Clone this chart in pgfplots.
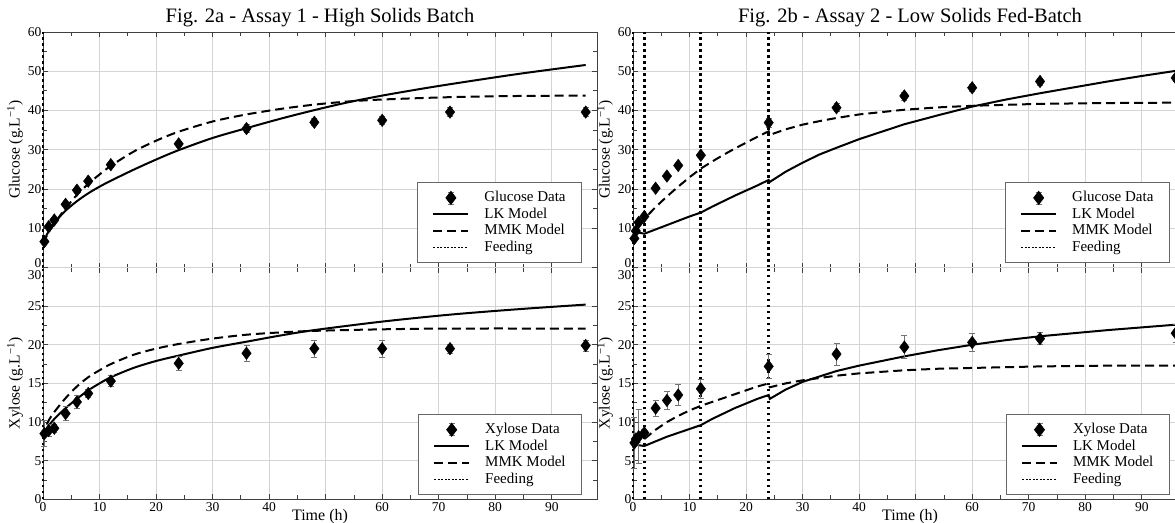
\documentclass[border=0pt]{standalone}
\usepackage{fontspec}
\setmainfont{Liberation Serif}
\usepackage{pgfplots}
\usepackage{pgfplotstable}
\pgfplotsset{compat=1.18}

% measured data: t (h), value (g/L), error
\pgfplotstableread{
t v e
0.25 6.6 0.5
1 10.4 0.5
2 12.1 0.6
4 16.1 0.5
6 19.7 0.5
8 22.0 0.5
12 26.2 0.6
24 31.5 0.7
36 35.4 1.0
48 37.0 0.9
60 37.5 1.0
72 39.6 1.1
96 39.6 1.1
}\glcA
\pgfplotstableread{
t v e
0.25 8.5 1.7
1 8.9 0.8
2 9.2 0.5
4 11.1 0.9
6 12.6 0.8
8 13.7 0.5
12 15.3 0.7
24 17.6 0.9
36 18.9 1.0
48 19.5 1.1
60 19.5 1.1
72 19.5 0.6
96 19.9 0.7
}\xylA
\pgfplotstableread{
t v e
0.25 7.4 0.4
0.5 9.3 0.5
1 11.5 0.5
2 13.0 0.5
4 20.2 0.5
6 23.3 0.5
8 26.0 0.5
12 28.6 0.6
24 36.9 1.2
36 40.7 1.0
48 43.7 1.0
60 45.8 0.8
72 47.4 0.9
96 48.3 0.9
}\glcB
\pgfplotstableread{
t v e
0.25 7.3 3.3
0.5 7.8 0.8
1 8.1 3.5
2 8.6 0.5
4 11.8 1.0
6 12.8 1.2
8 13.5 1.4
12 14.3 1.2
24 17.2 1.5
36 18.8 1.4
48 19.7 1.5
60 20.3 1.2
72 20.8 0.8
96 21.5 1.2
}\xylB

% model curves
\pgfplotstableread{
t v
0 6.0
0.5 7.8
1 9.2
2 11.3
3 13.0
4 14.5
6 16.9
8 18.9
10 20.6
12 22.1
16 24.9
20 27.5
24 29.9
30 33.0
36 35.5
42 37.9
48 40.1
54 42.1
60 43.8
66 45.3
72 46.7
84 49.3
96 51.6
}\lkGA
\pgfplotstableread{
t v
0 6.0
0.5 7.6
1 9.0
2 11.2
3 13.2
4 15.1
6 18.5
8 21.3
10 23.7
12 25.9
16 29.5
20 32.3
24 34.6
30 37.2
36 39.0
42 40.4
48 41.5
54 42.3
60 42.8
72 43.4
84 43.7
96 43.8
}\mmGA
\pgfplotstableread{
t v
0 8.0
0.5 8.9
1 9.5
2 10.4
4 11.8
6 13.0
8 14.1
10 15.0
12 15.8
16 17.0
20 17.9
24 18.6
30 19.6
36 20.4
42 21.2
48 21.9
60 23.0
72 23.9
84 24.6
96 25.2
}\lkXA
\pgfplotstableread{
t v
0 8.0
0.5 9.3
1 10.2
2 11.3
4 13.1
6 14.6
8 15.8
10 16.7
12 17.5
16 18.7
20 19.5
24 20.1
30 20.8
36 21.3
42 21.6
48 21.8
60 22.0
72 22.1
96 22.1
}\mmXA
\pgfplotstableread{
t v
0 7.6
0.5 8.9
1 8.9
2 8.6
4 9.7
6 10.8
8 11.9
10 13.0
12 14.0
14 15.5
16 16.9
18 18.3
20 19.6
22 20.9
24 22.3
24.2 21.8
27 24.4
30 26.7
33 28.8
36 30.5
40 32.7
44 34.6
48 36.5
54 38.8
60 41.0
66 42.8
72 44.4
78 45.9
84 47.4
90 48.8
96 50.1
}\lkGB
\pgfplotstableread{
t v
0 7.6
0.5 9.0
1 10.2
2 12.4
4 15.4
6 18.1
8 20.6
10 23.0
12 25.2
14 27.0
16 28.7
18 30.3
20 31.8
22 33.3
24 34.7
24.2 33.8
27 35.2
30 36.4
33 37.3
36 38.1
40 39.0
44 39.6
48 40.2
54 40.8
60 41.2
72 41.7
84 41.9
96 42.0
}\mmGB
\pgfplotstableread{
t v
0 6.6
0.5 7.0
1 7.0
2 6.9
4 7.5
6 8.1
8 8.6
10 9.1
12 9.6
14 10.4
16 11.1
18 11.8
20 12.4
22 13.0
24 13.5
24.2 13.0
27 14.2
30 15.2
33 15.9
36 16.6
40 17.3
44 17.9
48 18.5
54 19.3
60 20.0
66 20.6
72 21.1
84 21.9
96 22.6
}\lkXB
\pgfplotstableread{
t v
0 6.8
0.5 7.2
1 7.4
2 7.8
4 9.0
6 10.0
8 10.8
10 11.5
12 12.1
14 12.6
16 13.1
18 13.6
20 14.1
22 14.6
24 15.0
24.2 14.5
27 15.0
30 15.4
33 15.7
36 16.0
40 16.3
44 16.5
48 16.7
54 16.9
60 17.0
72 17.2
84 17.3
96 17.3
}\mmXB

\pgfplotsset{
  panel/.style={
    scale only axis, width=554pt, xmin=0, xmax=98,
    xtick={0,10,...,90}, minor x tick num=1, minor y tick num=1,
    grid=major, major grid style={black!17, line width=0.8pt},
    axis line style={black!75, line width=0.9pt},
    tick style={black!75, line width=0.8pt},
    major tick length=5pt, minor tick length=4pt,
    tick align=inside, clip=false,
    /pgf/number format/assume math mode=true,
    tick label style={font=\fontsize{13.5}{14}\selectfont},
    yticklabel style={inner xsep=1.5pt, inner ysep=0pt},
    every axis y label/.style={at={(axis description cs:0,0.5)}, xshift=-28pt,
      rotate=90, anchor=center, font=\fontsize{15.5}{16}\selectfont},
    every axis x label/.style={at={(axis description cs:0.5,0)}, yshift=-17pt,
      anchor=center, font=\fontsize{16}{16}\selectfont},
    title style={font=\fontsize{20.5}{21}\selectfont, at={(axis description cs:0.5,1)}, anchor=base, yshift=4pt},
    legend cell align=left,
    legend image code/.code={\draw[##1] (0pt,0pt) -- (35pt,0pt);},
    legend style={at={(axis description cs:0.973,0.019)}, anchor=south east,
      draw=black!60, line width=0.8pt, fill=white,
      font=\fontsize{15}{16}\selectfont, inner xsep=15pt, inner ysep=7pt,
      nodes={inner sep=1pt, text height=11pt, text depth=3.5pt},
      /tikz/every odd column/.append style={column sep=14pt}},
  },
  toppanel/.style={panel, height=235.5pt, ymin=0, ymax=60, ytick={10,20,...,60},
    extra y ticks={0}, extra y tick style={tick label style={yshift=4.5pt}},
    xticklabel=\empty, ylabel={Glucose (g.L\textsuperscript{−1})}},
  botpanel/.style={panel, height=231.8pt, ymin=0, ymax=30, ytick={0,5,...,25},
    extra y ticks={30}, extra y tick style={tick label style={yshift=-7.5pt}},
    xticklabels={0,10,20,30,40,,60,70,80,90}, xlabel={Time (h)},
    ylabel={Xylose (g.L\textsuperscript{−1})}},
  datastyle/.style={only marks, mark=diamond*, mark size=6.3pt, black, forget plot,
    error bars/.cd, y dir=both, y explicit,
    error bar style={black!55, line width=0.7pt},
    error mark options={rotate=90, black!55, mark size=3pt, line width=0.7pt}},
  lk/.style={black, line width=2pt, forget plot},
  mmk/.style={black, line width=2pt, dash pattern=on 9pt off 5pt, forget plot},
  feed/.style={black, line width=2.8pt, dash pattern=on 2.8pt off 3.2pt, forget plot},
  dataimg/.style={legend image code/.code={
    \draw[black!55, line width=0.7pt] (17.5pt,-6pt) -- (17.5pt,6pt) (14.5pt,6pt) -- (20.5pt,6pt) (14.5pt,-6pt) -- (20.5pt,-6pt);
    \fill[black] (17.5pt,6.5pt) -- (22.5pt,0pt) -- (17.5pt,-6.5pt) -- (12.5pt,0pt) -- cycle;}},
}

\newcommand{\legendrest}{%
  \addlegendimage{black, line width=2pt}
  \addlegendentry{LK Model}
  \addlegendimage{black, line width=2pt, dash pattern=on 9pt off 5pt}
  \addlegendentry{MMK Model}
  \addlegendimage{black, line width=1.3pt, dash pattern=on 2pt off 1.5pt}
  \addlegendentry{Feeding}}

\begin{document}
\begin{tikzpicture}
% Fig 2a glucose
\begin{axis}[toppanel, at={(43pt,-267.5pt)}, anchor=south west,
  title={Fig. 2a - Assay 1 - High Solids Batch}]
  \addplot[feed] coordinates {(0,0) (0,60)};
  \addplot[lk, smooth] table[x=t, y=v] {\lkGA};
  \addplot[mmk, smooth] table[x=t, y=v] {\mmGA};
  \addplot[datastyle] table[x=t, y=v, y error=e] {\glcA};
  \addlegendimage{dataimg}
  \addlegendentry{Glucose Data}
  \legendrest
\end{axis}
% Fig 2a xylose
\begin{axis}[botpanel, at={(43pt,-499.3pt)}, anchor=south west]
  \addplot[feed] coordinates {(0,0) (0,30)};
  \addplot[lk, smooth] table[x=t, y=v] {\lkXA};
  \addplot[mmk, smooth] table[x=t, y=v] {\mmXA};
  \addplot[datastyle] table[x=t, y=v, y error=e] {\xylA};
  \addlegendimage{dataimg}
  \addlegendentry{Xylose Data}
  \legendrest
\end{axis}
% Fig 2b glucose
\begin{axis}[toppanel, at={(633pt,-267.5pt)}, anchor=south west,
  title={Fig. 2b - Assay 2 - Low Solids Fed-Batch},
  legend style={at={(axis description cs:0.969,0.019)}}]
  \addplot[feed] coordinates {(0,0) (0,60)};
  \addplot[feed] coordinates {(2,0) (2,60)};
  \addplot[feed] coordinates {(12,0) (12,60)};
  \addplot[feed] coordinates {(24,0) (24,60)};
  \addplot[lk] table[x=t, y=v] {\lkGB};
  \addplot[mmk] table[x=t, y=v] {\mmGB};
  \addplot[datastyle] table[x=t, y=v, y error=e] {\glcB};
  \addlegendimage{dataimg}
  \addlegendentry{Glucose Data}
  \legendrest
\end{axis}
% Fig 2b xylose
\begin{axis}[botpanel, at={(633pt,-499.3pt)}, anchor=south west,
  legend style={at={(axis description cs:0.969,0.019)}}]
  \addplot[feed] coordinates {(0,0) (0,30)};
  \addplot[feed] coordinates {(2,0) (2,30)};
  \addplot[feed] coordinates {(12,0) (12,30)};
  \addplot[feed] coordinates {(24,0) (24,30)};
  \addplot[lk] table[x=t, y=v] {\lkXB};
  \addplot[mmk] table[x=t, y=v] {\mmXB};
  \addplot[datastyle] table[x=t, y=v, y error=e] {\xylB};
  \addlegendimage{dataimg}
  \addlegendentry{Xylose Data}
  \legendrest
\end{axis}
\pgfresetboundingbox
\useasboundingbox (0pt,0pt) rectangle (1175pt,-522pt);
\end{tikzpicture}
\end{document}
